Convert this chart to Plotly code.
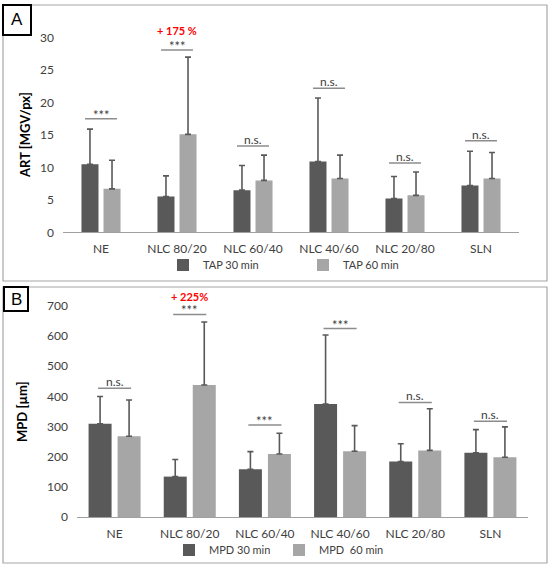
import plotly.graph_objects as go

W, H = 550, 568

categories = ["NE", "NLC 80/20", "NLC 60/40", "NLC 40/60", "NLC 20/80", "SLN"]

art_30 = [10.5, 5.5, 6.5, 10.9, 5.2, 7.2]
art_30_sd = [5.4, 3.2, 3.8, 9.8, 3.4, 5.3]
art_60 = [6.7, 15.1, 8.0, 8.3, 5.7, 8.3]
art_60_sd = [4.4, 11.9, 3.9, 3.6, 3.6, 4.0]
art_sig = ["***", "***", "n.s.", "n.s.", "n.s.", "n.s."]
art_sig_y = [17.5, 28.1, 13.3, 22.2, 10.7, 14.1]

mpd_30 = [309, 134, 158, 375, 184, 213]
mpd_30_sd = [91, 57, 59, 229, 59, 77]
mpd_60 = [268, 438, 209, 218, 221, 198]
mpd_60_sd = [120, 209, 69, 85, 138, 101]
mpd_sig = ["n.s.", "***", "***", "***", "n.s.", "n.s."]
mpd_sig_y = [427, 672, 305, 625, 380, 318]

art_increase = ("NLC 80/20", "+ 175 %")
mpd_increase = ("NLC 80/20", "+ 225%")

DARK = "#595959"
LIGHT = "#a6a6a6"
TXT = "#404040"
FONT = "Lato"


def px_x(p):
    return p / W


def px_y(p):
    return 1 - p / H


fig = go.Figure()


def add_pair(y30, sd30, y60, sd60, names, xa, ya, legend, width, off30, off60):
    for vals, sd, name, color, off in [
        (y30, sd30, names[0], DARK, off30),
        (y60, sd60, names[1], LIGHT, off60),
    ]:
        fig.add_trace(
            go.Bar(
                x=categories,
                y=vals,
                name=name,
                marker=dict(color=color, line=dict(width=0)),
                width=width,
                offset=off,
                error_y=dict(
                    type="data",
                    symmetric=False,
                    array=sd,
                    arrayminus=[0] * len(sd),
                    color=DARK,
                    thickness=1.6,
                    width=3,
                ),
                xaxis=xa,
                yaxis=ya,
                legend=legend,
            )
        )


add_pair(art_30, art_30_sd, art_60, art_60_sd, ["TAP 30 min", "TAP 60 min"],
         "x", "y", "legend", 0.224, -0.257, 0.033)
add_pair(mpd_30, mpd_30_sd, mpd_60, mpd_60_sd, ["MPD 30 min", "MPD\u00a0 60 min"],
         "x2", "y2", "legend2", 0.306, -0.346, 0.04)

shapes = []
annotations = []

# panel frames and letter boxes
for top, bottom in [(5, 281), (287, 563)]:
    shapes.append(dict(type="rect", xref="paper", yref="paper",
                       x0=px_x(3), x1=px_x(547), y0=px_y(bottom), y1=px_y(top),
                       line=dict(color="#a6a6a6", width=1.2), layer="below"))
for letter, (x0, x1, y0, y1) in [("A", (3, 31, 5, 35)), ("B", (4, 28, 287, 311))]:
    shapes.append(dict(type="rect", xref="paper", yref="paper",
                       x0=px_x(x0), x1=px_x(x1), y0=px_y(y1), y1=px_y(y0),
                       line=dict(color="black", width=2), fillcolor="white",
                       layer="below"))
    annotations.append(dict(text=letter, xref="paper", yref="paper",
                            x=px_x((x0 + x1) / 2), y=px_y((y0 + y1) / 2),
                            xanchor="center", yanchor="middle", showarrow=False,
                            font=dict(family="Liberation Sans", size=17, color="black")))

# significance bars
for sig, sig_y, xa, ya, hw in [
    (art_sig, art_sig_y, "x", "y", 0.21),
    (mpd_sig, mpd_sig_y, "x2", "y2", 0.22),
]:
    for i, (s, yv) in enumerate(zip(sig, sig_y)):
        shapes.append(dict(type="line", xref=xa, yref=ya, x0=i - hw, x1=i + hw,
                           y0=yv, y1=yv, line=dict(color="#8c8c8c", width=1.5)))
        star = s == "***"
        annotations.append(dict(text=s, xref=xa, yref=ya, x=i, y=yv,
                                yanchor="bottom", showarrow=False,
                                yshift=-6 if star else -3,
                                font=dict(family=FONT, size=13 if star else 12, color=TXT)))

for (cat, txt), sig_y, xa, ya, shift in [
    (art_increase, art_sig_y, "x", "y", 11),
    (mpd_increase, mpd_sig_y, "x2", "y2", 9),
]:
    i = categories.index(cat)
    annotations.append(dict(text="<b>" + txt + "</b>", xref=xa, yref=ya, x=i, y=sig_y[i],
                            yanchor="bottom", yshift=shift, showarrow=False,
                            font=dict(family=FONT, size=11, color="#ff0000")))

# y-axis titles
annotations.append(dict(text="<b>ART [MGV/px]</b>", xref="paper", yref="paper",
                        x=px_x(25), y=px_y(135), textangle=-90, showarrow=False,
                        xanchor="center", yanchor="middle",
                        font=dict(family=FONT, size=13, color="black")))
annotations.append(dict(text="<b>MPD [µm]</b>", xref="paper", yref="paper",
                        x=px_x(22), y=px_y(412), textangle=-90, showarrow=False,
                        xanchor="center", yanchor="middle",
                        font=dict(family=FONT, size=13, color="black")))

axis_font = dict(family=FONT, size=12, color=TXT)
xcommon = dict(type="category", showline=True, linecolor="#a0a0a0", linewidth=1.2,
               ticks="", showgrid=False, tickfont=axis_font, zeroline=False,
               automargin=False, ticklabelstandoff=5)
ycommon = dict(showline=False, showgrid=False, ticks="", zeroline=False,
               tickfont=axis_font, ticklabelstandoff=8, automargin=False)

legend_font = dict(family=FONT, size=11, color=TXT)

fig.update_layout(
    width=W,
    height=H,
    margin=dict(l=0, r=0, t=0, b=0, pad=0, autoexpand=False),
    paper_bgcolor="white",
    plot_bgcolor="white",
    barmode="group",
    font=dict(family=FONT, color=TXT),
    xaxis=dict(domain=[px_x(63), px_x(519)], anchor="y", **xcommon),
    yaxis=dict(domain=[px_y(232.3), px_y(37.7)], anchor="x", range=[0, 30],
               tickvals=[0, 5, 10, 15, 20, 25, 30], **ycommon),
    xaxis2=dict(domain=[px_x(77), px_x(528)], anchor="y2", **xcommon),
    yaxis2=dict(domain=[px_y(517), px_y(306)], anchor="x2", range=[0, 700],
                tickvals=list(range(0, 701, 100)), **ycommon),
    legend=dict(orientation="h", x=px_x(163), y=px_y(265), xanchor="left",
                yanchor="middle", font=legend_font,
                entrywidth=95, itemwidth=30, bgcolor="rgba(0,0,0,0)"),
    legend2=dict(orientation="h", x=px_x(169), y=px_y(550), xanchor="left",
                 yanchor="middle", font=legend_font,
                 entrywidth=65, itemwidth=30, bgcolor="rgba(0,0,0,0)"),
    shapes=shapes,
    annotations=annotations,
)

fig.write_html("out.html", config={"displayModeBar": False},
               post_script="document.body.style.margin = '0';")
